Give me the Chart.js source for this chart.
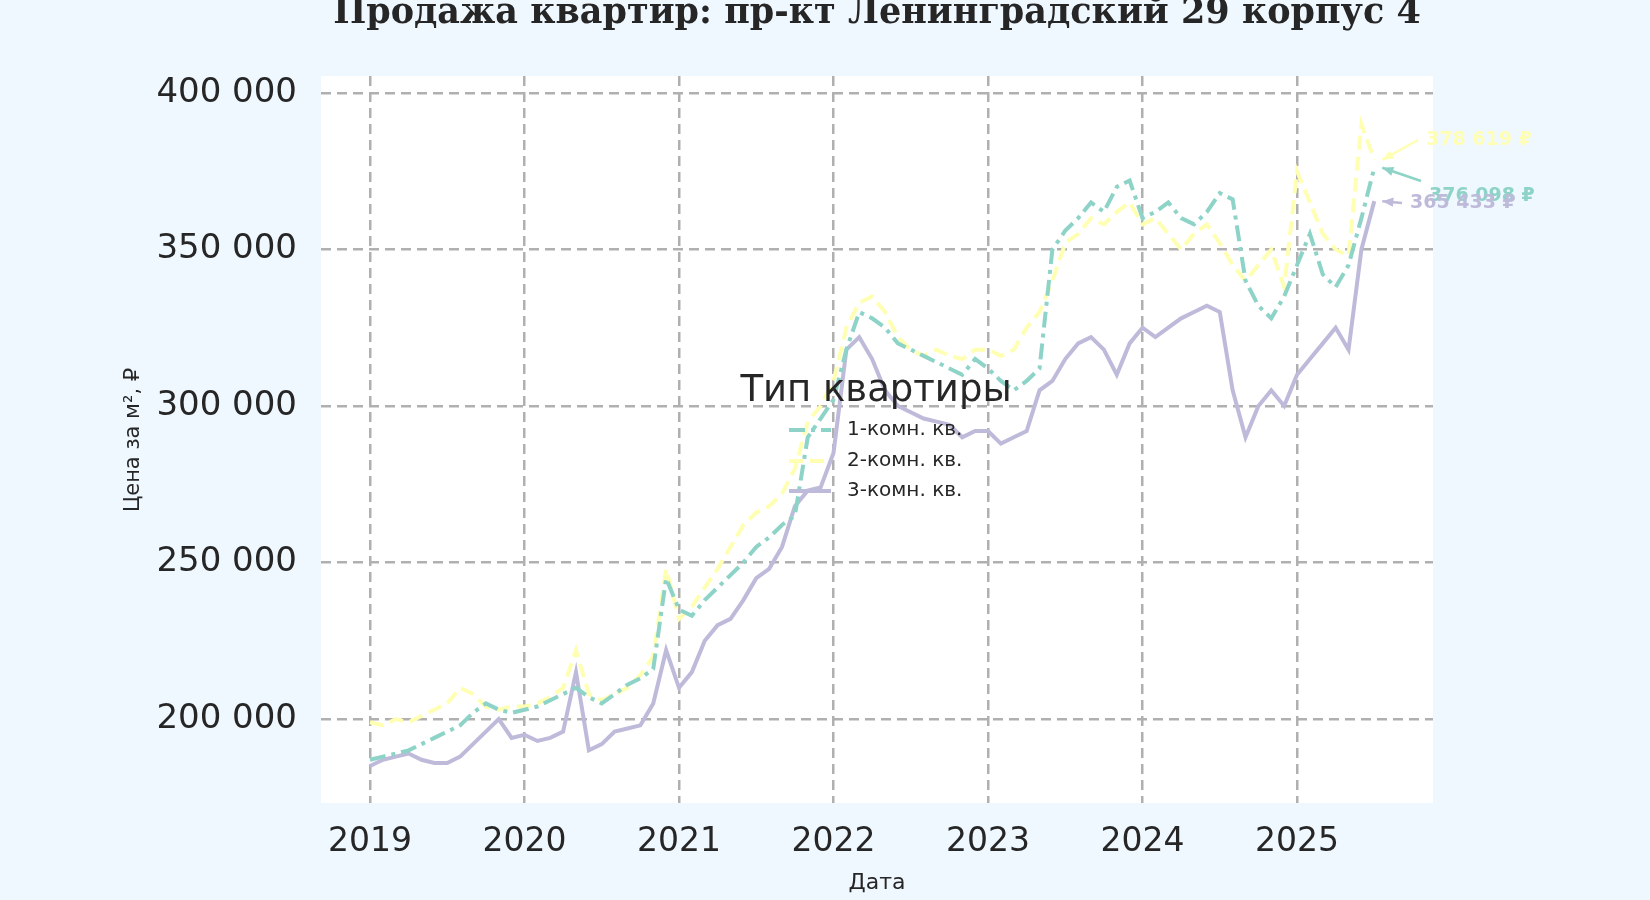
<!DOCTYPE html>
<html><head><meta charset="utf-8">
<script src="https://cdn.jsdelivr.net/npm/chart.js@4"></script>
<style>html,body{margin:0;background:#f0f8ff;}#w{width:1650px;height:900px;}</style>
</head><body><div id="w"><canvas id="c"></canvas></div>
<script>
const years=[2019,2020,2021,2022,2023,2024,2025];
const tickYears=[2019,2020,2021,2022,2023,2024,2025];
const seriesNames=['1-комн. кв.','2-комн. кв.','3-комн. кв.'];
const room1=[187,188,189,190,192,194,196,198,202,205,203,202,
203,204,206,208,210,207,205,208,211,213,216,245,
235,233,238,242,246,250,255,258,262,265,290,296,
302,318,330,328,325,320,318,316,314,312,310,315,
312,308,305,308,312,350,356,360,365,362,370,372,
360,362,365,360,358,362,368,366,340,332,328,335,
345,355,342,338,345,360,376.098];
const room2=[199,198,200,199,201,203,205,210,208,204,203,204,
204,205,207,210,222,208,206,208,210,214,220,248,
232,236,242,248,255,262,266,268,272,280,295,300,
308,325,333,335,330,322,318,316,318,316,315,318,
318,316,318,325,330,340,352,355,360,358,362,365,
358,360,355,350,355,358,352,345,340,345,350,338,
375,365,355,350,348,390,378.619];
const room3=[185,187,188,189,187,186,186,188,192,196,200,194,
195,193,194,196,215,190,192,196,197,198,205,222,
210,215,225,230,232,238,245,248,255,268,273,274,
285,318,322,315,305,300,298,296,295,294,290,292,
292,288,290,292,305,308,315,320,322,318,310,320,
325,322,325,328,330,332,330,305,290,300,305,300,
310,315,320,325,318,350,365.433];
const endLabels=['376 098 ₽','378 619 ₽','365 433 ₽'];
const colors=['#8dd3c7','#ffffb3','#bebada'];
const dashes=[[16,6,4,6],[14,7],[]];
const dates=[];years.forEach(y=>{for(let m=0;m<12;m++)dates.push(y+m/12);});
const mk=v=>v.map((y,i)=>({x:dates[i],y:y*1000}));
const fmt=v=>Math.round(v).toString().replace(/\B(?=(\d{3})+(?!\d))/g,' ');
const datasets=[room1,room2,room3].map((v,i)=>({label:seriesNames[i],data:mk(v),borderColor:colors[i],borderDash:dashes[i],borderWidth:4,pointRadius:0,tension:0}));
const bg={id:'bg',beforeDraw(ch){const {ctx,chartArea:a}=ch;ctx.save();ctx.fillStyle='#f0f8ff';ctx.fillRect(0,0,ch.width,ch.height);ctx.fillStyle='#ffffff';ctx.fillRect(a.left,a.top,a.right-a.left,a.bottom-a.top);ctx.restore();}};
const extra={id:'extra',afterDatasetsDraw(ch){const ctx=ch.ctx;ctx.save();
ctx.fillStyle='#262626';ctx.font='bold 35px "DejaVu Serif"';ctx.textAlign='center';ctx.textBaseline='middle';
ctx.fillText('Продажа квартир: пр-кт Ленинградский 29 корпус 4',877,14);
ctx.save();ctx.translate(134,440);ctx.rotate(-Math.PI/2);ctx.font='21px "DejaVu Sans"';ctx.fillText('Цена за м², ₽',0,0);ctx.restore();
ctx.font='37px "DejaVu Sans"';ctx.fillText('Тип квартиры',876,391);
ctx.font='20px "DejaVu Sans"';ctx.textAlign='left';
[430,461,491].forEach((y,i)=>{ctx.strokeStyle=colors[i];ctx.lineWidth=4;ctx.setLineDash(dashes[i]);ctx.beginPath();ctx.moveTo(789,y);ctx.lineTo(831,y);ctx.stroke();ctx.setLineDash([]);ctx.fillStyle='#262626';ctx.fillText(seriesNames[i],847,y);});
const xs=ch.scales.x,ys=ch.scales.y;
const pos=[[1429,196],[1426,140],[1410,203]];
ctx.font='bold 19px "DejaVu Sans"';
datasets.forEach((d,i)=>{const p=d.data[d.data.length-1];const px=xs.getPixelForValue(p.x)+8,py=ys.getPixelForValue(p.y);
const [tx,ty]=pos[i];ctx.strokeStyle=colors[i];ctx.fillStyle=colors[i];ctx.lineWidth=2.5;
const sx=tx-8,sy=ty-(i==0?15:0);ctx.beginPath();ctx.moveTo(sx,sy);ctx.lineTo(px,py);ctx.stroke();
const ang=Math.atan2(py-sy,px-sx);ctx.beginPath();ctx.moveTo(px,py);ctx.lineTo(px-12*Math.cos(ang-0.4),py-12*Math.sin(ang-0.4));ctx.lineTo(px-12*Math.cos(ang+0.4),py-12*Math.sin(ang+0.4));ctx.closePath();ctx.fill();
ctx.fillText(endLabels[i],tx,ty);});
ctx.restore();}};
new Chart(document.getElementById('c'),{type:'line',data:{datasets},
options:{responsive:true,maintainAspectRatio:false,animation:false,
layout:{padding:{left:0,right:217,top:76,bottom:0}},
plugins:{legend:{display:false},tooltip:{enabled:false}},
scales:{
x:{type:'linear',min:2018.683,max:2025.88,afterFit:s=>{s.height=97;},
afterBuildTicks:s=>{s.ticks=tickYears.map(v=>({value:v}));},
ticks:{font:{size:33,family:'DejaVu Sans'},color:'#262626',padding:20,callback:v=>String(v),maxRotation:0},
grid:{color:'#b0b0b0',lineWidth:2.5,drawTicks:false},border:{display:false,dash:[10,6]},
title:{display:true,text:'Дата',font:{size:22,family:'DejaVu Sans'},color:'#262626',padding:{top:0}}},
y:{min:173200,max:405400,afterFit:s=>{s.width=321;},
afterBuildTicks:s=>{s.ticks=[200000,250000,300000,350000,400000].map(v=>({value:v}));},
ticks:{font:{size:34,family:'DejaVu Sans'},color:'#262626',padding:24,callback:v=>fmt(v)},
grid:{color:'#b0b0b0',lineWidth:2.5,drawTicks:false},border:{display:false,dash:[10,6]},
title:{display:false}}}},
plugins:[bg,extra]});
</script></body></html>
